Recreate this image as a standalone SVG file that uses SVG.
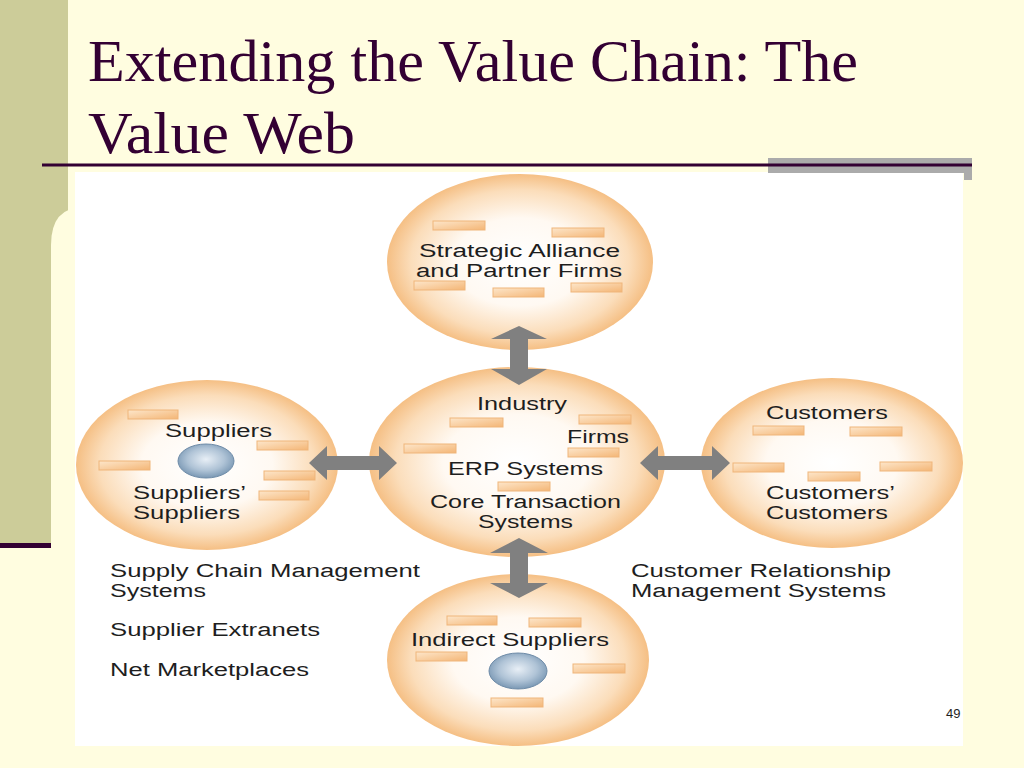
<svg xmlns="http://www.w3.org/2000/svg" width="1024" height="768" viewBox="0 0 1024 768">
<defs>
<radialGradient id="orb" cx="0.5" cy="0.5" r="0.5">
<stop offset="0" stop-color="#FFFFFF"/>
<stop offset="0.5" stop-color="#FFF9F2"/>
<stop offset="0.82" stop-color="#FBDDBA"/>
<stop offset="1" stop-color="#F5BF84"/>
</radialGradient>
<radialGradient id="blue" cx="0.5" cy="0.45" r="0.55">
<stop offset="0" stop-color="#E8EFF6"/>
<stop offset="0.6" stop-color="#AFC3D6"/>
<stop offset="1" stop-color="#7A98B4"/>
</radialGradient>
<linearGradient id="barg" x1="0" y1="0" x2="1" y2="1">
<stop offset="0" stop-color="#FDE6CA"/>
<stop offset="1" stop-color="#F4B676"/>
</linearGradient>
<style>
.orb{fill:url(#orb)}
.bar{fill:url(#barg);stroke:#EFB57A;stroke-width:1}
.bl{fill:url(#blue);stroke:#6F8CA8;stroke-width:1}
.t{font-family:"Liberation Sans",Arial,Helvetica,sans-serif;font-size:18px;fill:#1E1E1E}
.ttl{font-family:"Liberation Serif","Times New Roman",serif;font-size:60px;fill:#330033}
.arr{fill:#808080}
</style>
</defs>
<rect x="0" y="0" width="1024" height="768" fill="#FFFDE0"/>
<rect x="0" y="0" width="68" height="548" fill="#CCCC99"/>
<path d="M51,548 L51,245 Q51,207 84,207 L84,548 Z" fill="#FFFDE0"/>
<rect x="0" y="543" width="51" height="5" fill="#330033"/>
<text class="ttl" x="88" y="81" textLength="770" lengthAdjust="spacingAndGlyphs">Extending the Value Chain: The</text>
<text class="ttl" x="88" y="153" textLength="267" lengthAdjust="spacingAndGlyphs">Value Web</text>
<rect x="75" y="172" width="888" height="574" fill="#FFFFFF"/>
<rect x="768" y="158" width="204" height="15" fill="#ABABAB"/>
<rect x="964" y="158" width="8" height="22" fill="#ABABAB"/>
<line x1="42" y1="165" x2="972" y2="165" stroke="#330033" stroke-width="3"/>

<g id="strategic">
<ellipse class="orb" cx="520" cy="262" rx="133" ry="88"/>
<rect class="bar" x="433" y="221" width="52" height="9"/>
<rect class="bar" x="552" y="228" width="52" height="9"/>
<rect class="bar" x="414" y="281" width="51" height="9"/>
<rect class="bar" x="493" y="288" width="51" height="9"/>
<rect class="bar" x="571" y="283" width="51" height="9"/>
<text class="t" x="419" y="257" textLength="201" lengthAdjust="spacingAndGlyphs">Strategic Alliance</text>
<text class="t" x="416" y="277" textLength="206" lengthAdjust="spacingAndGlyphs">and Partner Firms</text>
</g>

<g id="suppliers">
<ellipse class="orb" cx="207" cy="465" rx="131" ry="85"/>
<rect class="bar" x="128" y="410" width="50" height="9"/>
<rect class="bar" x="257" y="441" width="51" height="9"/>
<rect class="bar" x="99" y="461" width="51" height="9"/>
<rect class="bar" x="264" y="471" width="51" height="9"/>
<rect class="bar" x="259" y="491" width="50" height="9"/>
<ellipse class="bl" cx="206" cy="461" rx="28" ry="17"/>
<text class="t" x="165" y="437" textLength="107" lengthAdjust="spacingAndGlyphs">Suppliers</text>
<text class="t" x="133" y="499" textLength="113" lengthAdjust="spacingAndGlyphs">Suppliers’</text>
<text class="t" x="133" y="519" textLength="107" lengthAdjust="spacingAndGlyphs">Suppliers</text>
</g>

<g id="industry">
<ellipse class="orb" cx="517" cy="462" rx="148" ry="95"/>
<rect class="bar" x="450" y="418" width="53" height="9"/>
<rect class="bar" x="579" y="415" width="52" height="9"/>
<rect class="bar" x="404" y="444" width="52" height="9"/>
<rect class="bar" x="568" y="448" width="51" height="9"/>
<rect class="bar" x="498" y="482" width="52" height="9"/>
<text class="t" x="477" y="410" textLength="90" lengthAdjust="spacingAndGlyphs">Industry</text>
<text class="t" x="567" y="443" textLength="62" lengthAdjust="spacingAndGlyphs">Firms</text>
<text class="t" x="448" y="475" textLength="155" lengthAdjust="spacingAndGlyphs">ERP Systems</text>
<text class="t" x="430" y="508" textLength="191" lengthAdjust="spacingAndGlyphs">Core Transaction</text>
<text class="t" x="478" y="528" textLength="95" lengthAdjust="spacingAndGlyphs">Systems</text>
</g>

<g id="customers">
<ellipse class="orb" cx="832" cy="463" rx="131" ry="85"/>
<rect class="bar" x="753" y="426" width="51" height="9"/>
<rect class="bar" x="850" y="427" width="52" height="9"/>
<rect class="bar" x="733" y="463" width="51" height="9"/>
<rect class="bar" x="808" y="472" width="52" height="9"/>
<rect class="bar" x="880" y="462" width="52" height="9"/>
<text class="t" x="766" y="419" textLength="122" lengthAdjust="spacingAndGlyphs">Customers</text>
<text class="t" x="766" y="499" textLength="129" lengthAdjust="spacingAndGlyphs">Customers’</text>
<text class="t" x="766" y="519" textLength="122" lengthAdjust="spacingAndGlyphs">Customers</text>
</g>

<g id="indirect">
<ellipse class="orb" cx="518" cy="660" rx="131" ry="86"/>
<rect class="bar" x="447" y="616" width="50" height="9"/>
<rect class="bar" x="529" y="618" width="52" height="9"/>
<rect class="bar" x="416" y="652" width="51" height="9"/>
<rect class="bar" x="573" y="664" width="52" height="9"/>
<rect class="bar" x="491" y="698" width="52" height="9"/>
<ellipse class="bl" cx="518" cy="671" rx="29" ry="18"/>
<text class="t" x="411" y="646" textLength="198" lengthAdjust="spacingAndGlyphs">Indirect Suppliers</text>
</g>

<g id="connectors">
<polygon class="arr" points="519,326 547,339 528,339 528,369 547,369 519,385 491,369 510,369 510,339 491,339"/>
<polygon class="arr" points="519,538 548,553 528,553 528,583 548,583 519,598 490,583 510,583 510,553 490,553"/>
<polygon class="arr" points="309,463 327,446 327,456 379,456 379,446 397,463 379,480 379,470 327,470 327,480"/>
<polygon class="arr" points="640,463 658,446 658,456 712,456 712,446 730,463 712,480 712,470 658,470 658,480"/>
</g>

<g id="labels">
<text class="t" x="110" y="577" textLength="310" lengthAdjust="spacingAndGlyphs">Supply Chain Management</text>
<text class="t" x="110" y="597" textLength="96" lengthAdjust="spacingAndGlyphs">Systems</text>
<text class="t" x="110" y="636" textLength="210" lengthAdjust="spacingAndGlyphs">Supplier Extranets</text>
<text class="t" x="110" y="676" textLength="199" lengthAdjust="spacingAndGlyphs">Net Marketplaces</text>
<text class="t" x="631" y="577" textLength="260" lengthAdjust="spacingAndGlyphs">Customer Relationship</text>
<text class="t" x="631" y="597" textLength="255" lengthAdjust="spacingAndGlyphs">Management Systems</text>
<text x="946" y="718" font-family="'Liberation Sans',Arial,sans-serif" font-size="13" fill="#1E1E1E">49</text>
</g>
</svg>
